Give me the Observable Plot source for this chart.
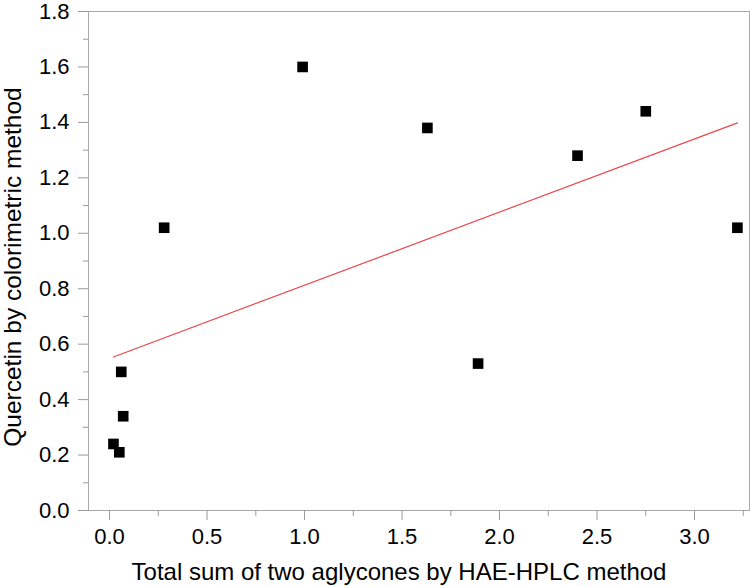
<!DOCTYPE html>
<html>
<head>
<meta charset="utf-8">
<script src="https://cdn.jsdelivr.net/npm/d3@7"></script>
<script src="https://cdn.jsdelivr.net/npm/@observablehq/plot@0.6"></script>
<style>
  body { margin: 0; background: #fff; }
  #chart svg { font-family: "Liberation Sans", Arial, Helvetica, sans-serif; }
</style>
</head>
<body>
<div id="chart"></div>
<script>
// Data
const hplcTotal = [0.02, 0.05, 0.07, 0.06, 0.28, 0.99, 1.63, 1.89, 2.40, 2.75, 3.22];
const quercetinColorimetric = [0.24, 0.21, 0.34, 0.50, 1.02, 1.60, 1.38, 0.53, 1.28, 1.44, 1.02];

const xTicks = [0.0, 0.5, 1.0, 1.5, 2.0, 2.5, 3.0];
const xMinorTicks = [0.25, 0.75, 1.25, 1.75, 2.25, 2.75, 3.25];
const yTicks = [0.0, 0.2, 0.4, 0.6, 0.8, 1.0, 1.2, 1.4, 1.6, 1.8];
const yMinorTicks = [0.1, 0.3, 0.5, 0.7, 0.9, 1.1, 1.3, 1.5, 1.7];

const xTitle = "Total sum of two aglycones by HAE-HPLC method";
const yTitle = "Quercetin by colorimetric method";

const data = hplcTotal.map((x, i) => ({x, y: quercetinColorimetric[i]}));

const axisGray = "#9a9a9a";

const chart = Plot.plot({
  width: 750,
  height: 586,
  marginLeft: 88,
  marginRight: 1,
  marginTop: 11,
  marginBottom: 76,
  style: {fontFamily: '"Liberation Sans", Arial, sans-serif', background: "#fff"},
  x: {domain: [-0.108, 3.282]},
  y: {domain: [0, 1.8]},
  marks: [
    Plot.frame({stroke: "#a8a8a8"}),
    Plot.axisX({ticks: xTicks, tickFormat: d => d.toFixed(1), tickSize: 10, tickPadding: 8,
      stroke: axisGray, fill: "#000", fontSize: 22, label: null}),
    Plot.axisX({ticks: xMinorTicks, tickFormat: () => "", tickSize: 6,
      stroke: axisGray, label: null}),
    Plot.axisY({ticks: yTicks, tickFormat: d => d.toFixed(1), tickSize: 10, tickPadding: 9,
      stroke: axisGray, fill: "#000", fontSize: 22, label: null}),
    Plot.axisY({ticks: yMinorTicks, tickFormat: () => "", tickSize: 5,
      stroke: axisGray, label: null}),
    Plot.linearRegressionY(data, {x: "x", y: "y", ci: 0, stroke: "#e8474a", strokeWidth: 1.2}),
    Plot.dot(data, {x: "x", y: "y", symbol: "square", r: 6, fill: "#000", stroke: null}),
    Plot.text([xTitle], {text: d => d, frameAnchor: "bottom", lineAnchor: "bottom",
      dy: 69, dx: -20, fontSize: 24, fill: "#000"}),
    Plot.text([yTitle], {text: d => d, frameAnchor: "left", rotate: -90, lineAnchor: "middle",
      textAnchor: "middle", dx: -75, dy: 6, fontSize: 24.5, fill: "#000"})
  ]
});
document.getElementById("chart").appendChild(chart);
</script>
</body>
</html>
